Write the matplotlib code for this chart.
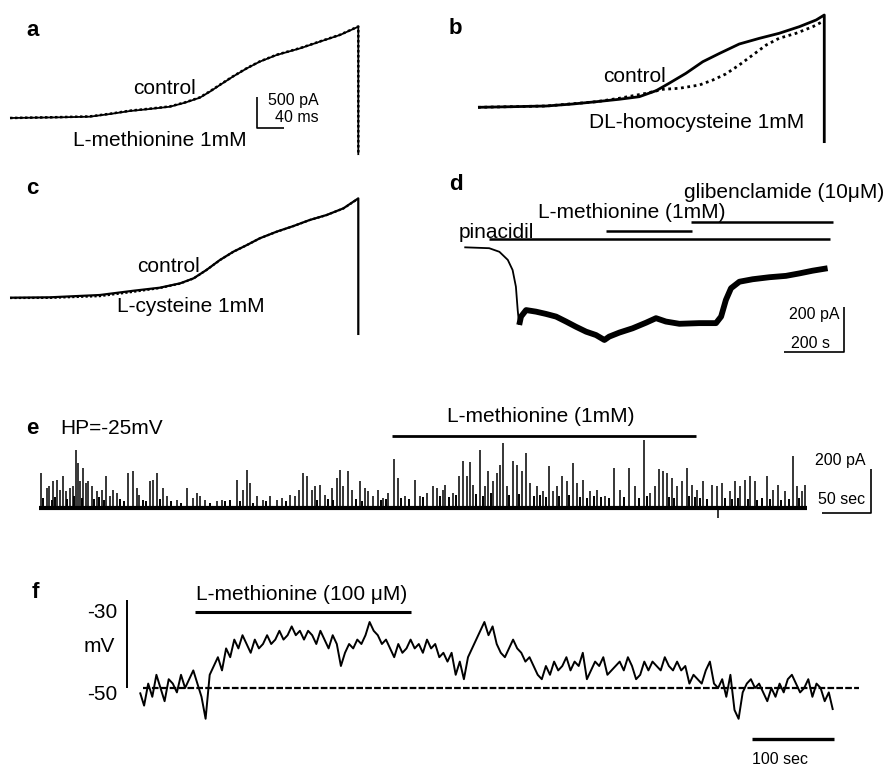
import numpy as np
import matplotlib
matplotlib.use("Agg")
import matplotlib.pyplot as plt

plt.rcParams.update({"font.family": ["Liberation Sans", "DejaVu Sans"],
                     "lines.solid_capstyle": "butt"})

W, H = 892, 767

# ---- a: L-methionine vs control (ms, pA) ----
a_t = [0, 74, 118, 148, 178, 207, 237, 259, 281, 296, 311, 330, 351, 370, 395,
       430, 459, 489, 516]
a_ctrl = [0, 11, 21, 64, 113, 145, 182, 246, 326, 423, 531, 665, 800, 907, 1014,
          1122, 1229, 1337, 1470]
a_met = [0, 14, 25, 68, 118, 150, 186, 250, 330, 428, 535, 668, 803, 910, 1018,
         1126, 1232, 1340, 1474]
a_drop = -596

# ---- b: DL-homocysteine vs control ----
b_t_ctrl = [0, 51, 101, 140, 175, 209, 239, 264, 283, 308, 333, 358, 387, 417,
            446, 476, 501, 513]
b_ctrl = [-5, 5, 16, 48, 85, 124, 166, 263, 381, 542, 729, 864, 1014, 1106, 1186,
          1293, 1401, 1481]
b_t_hcy = [0, 101, 175, 209, 249, 274, 298, 328, 348, 367, 387, 407, 427, 446,
           471, 496, 513]
b_hcy = [-5, 16, 85, 140, 220, 285, 301, 354, 435, 531, 676, 837, 998, 1106,
         1186, 1293, 1389]
b_drop = -580

# ---- c: L-cysteine vs control ----
c_t = [0, 59, 133, 183, 222, 252, 272, 291, 311, 331, 351, 370, 395, 420, 444,
       469, 494, 516]
c_ctrl = [5, 11, 48, 117, 166, 236, 317, 451, 612, 746, 853, 961, 1068, 1159,
          1256, 1336, 1444, 1604]
c_cys = [0, 2, 30, 100, 160, 232, 315, 450, 610, 745, 852, 960, 1066, 1158, 1255,
         1335, 1442, 1600]
c_drop = -596

# ---- d: whole-cell current (s, pA) ----
d_t = [0, 83, 117, 145, 161, 172, 178, 183, 189, 206, 239, 272, 306, 339, 372,
       406, 439, 467, 483, 517, 561, 606, 639, 672, 717, 783, 839, 856, 872, 889,
       917, 961, 1017, 1072, 1117, 1161, 1211]
d_I = [0, -4, -20, -56, -101, -175, -279, -345, -308, -279, -286, -296, -308,
       -330, -353, -375, -390, -412, -397, -379, -360, -335, -315, -330, -340,
       -337, -337, -308, -234, -182, -153, -142, -133, -127, -116, -104, -93]
d_pina = [83, 1220]
d_met = [472, 759]
d_glib = [756, 1228]

# ---- e: single-channel events (s, pA) ----
e_len = 784
e_spk_t = [1.7, 7.8, 10.5, 14.6, 18.7, 21.4, 24.2, 27.6, 31.6, 34.4, 37.8, 40.1,
           41.8, 45.2, 48, 50.3, 53.8, 58.9, 64, 68.4, 72.4, 75.8, 79.3, 91.1,
           96.2, 99.7, 102.3, 113.3, 116.6, 120.7, 126.8, 130.3, 140.5, 150.7,
           156.8, 160.9, 164.3, 169.4, 181.3, 186.4, 201.7, 208.5, 212.6, 215.3,
           222.1, 228.9, 235.7, 242.5, 247.6, 256.1, 261.2, 265.6, 269.7, 273.1,
           278.3, 281.6, 286.7, 291.8, 298.7, 303.8, 307.1, 310.5, 315.6, 319.1,
           327.6, 332.7, 336.1, 341.1, 346.2, 351.3, 356.4, 362.2, 366.7, 373.5,
           383.7, 388.8, 395.6, 401.7, 405.8, 412.6, 414.3, 422.8, 428.9, 433,
           436.4, 439.8, 443.2, 450, 455.1, 458.5, 463, 467, 470.4, 473.2, 477.2,
           484, 487.4, 492.5, 496.9, 501, 507.9, 514.6, 520.4, 524.2, 528.2,
           533.3, 538.5, 544.6, 548.7, 555.4, 562.2, 569.1, 577.6, 587, 592.9,
           602.3, 608.2, 617.3, 623.5, 628.6, 633, 637, 640.5, 645.6, 650.7,
           655.8, 660.9, 666, 671.1, 677.9, 686.4, 691.5, 692.5, 696.6, 705.1,
           710.2, 715.3, 720.4, 725.5, 730.6, 742.5, 749.3, 754.4, 761.2, 769.1,
           773.2, 778.3, 781.6]
e_spk_a = [159, 91, 98, 121, 126, 83, 144, 76, 91, 98, 265, 205, 121, 182, 114,
           121, 98, 76, 83, 144, 53, 83, 68, 159, 167, 91, 61, 121, 129, 159, 91,
           53, 38, 91, 45, 68, 53, 38, 30, 38, 129, 83, 174, 114, 53, 38, 53, 38,
           45, 61, 53, 83, 159, 144, 83, 98, 106, 61, 91, 136, 174, 98, 167, 83,
           121, 91, 76, 53, 83, 45, 68, 223, 136, 53, 129, 53, 68, 98, 91, 83,
           106, 68, 144, 212, 144, 208, 106, 265, 98, 167, 121, 159, 197, 295,
           98, 212, 197, 167, 250, 114, 98, 76, 189, 76, 98, 144, 121, 205, 114,
           129, 76, 83, 53, 182, 83, 182, 98, 308, 68, 98, 177, 167, 159, 136,
           98, 121, 182, 106, 83, 121, 106, 98, -45, 114, 76, 121, 98, 129, 144,
           121, 144, 83, 106, 76, 238, 98, 76, 106]
# small events filling the gaps between the larger openings
e_small_t = [4, 13, 16, 29, 36, 44, 56, 61, 66, 83, 87, 106, 109, 123, 135, 145,
             175, 190, 195, 205, 218, 232, 252, 284, 295, 300, 323, 330, 349,
             354, 369, 378, 392, 409, 418, 426, 446, 453, 461, 480, 490, 505,
             511, 517, 531, 541, 552, 559, 566, 573, 582, 597, 612, 620, 643,
             648, 663, 669, 674, 682, 700, 707, 713, 723, 733, 738, 746, 757,
             765, 776]
e_small_a = [45, 35, 50, 40, 55, 45, 40, 50, 35, 40, 30, 35, 30, 40, 30, 25, 25,
             30, 35, 30, 25, 30, 30, 35, 40, 35, 40, 30, 35, 40, 45, 40, 50, 55,
             50, 60, 65, 55, 70, 60, 65, 55, 60, 50, 55, 60, 50, 45, 55, 50, 45,
             50, 45, 55, 50, 45, 55, 50, 45, 40, 45, 40, 45, 40, 35, 45, 40, 35,
             40, 45]
e_met = [360, 670]

# ---- f: membrane potential (mV), sampled every 5 s ----
f_dt = 5
f_v = [-51, -54, -49, -52, -47, -50, -53, -48, -49, -51, -47, -50, -48, -46, -49,
       -52, -57, -47, -45, -43, -46, -41, -43,
       -39, -41, -38, -40, -42, -39, -41, -40, -38, -40, -39, -37, -39, -38, -36,
       -38, -37, -39, -37, -38, -40, -37, -39, -41, -38, -40, -45, -42, -40, -41,
       -39, -40, -38, -35, -37, -38, -40, -39, -41, -43, -40, -42, -41, -39, -41,
       -40, -42, -39, -41, -40, -43, -42, -44,
       -42, -47, -44, -48, -43, -41,
       -39, -37, -35, -38, -36, -40, -42,
       -43, -41, -39, -41, -42, -44, -43, -45,
       -47, -48, -45, -47, -44, -46, -45, -43, -46,
       -44, -45, -42, -48, -46, -44, -45, -43, -47, -46,
       -45, -44, -46, -43, -45, -48, -47, -44, -46,
       -44, -45, -46, -43, -45, -46, -44,
       -46, -45, -49, -47, -48, -49, -46, -44, -49,
       -50, -48, -52, -47, -55, -57, -51, -49, -48, -50,
       -49, -51, -53, -50, -52, -49, -51, -48, -47, -49,
       -51, -50, -48, -52, -49, -50, -53, -51, -55]
f_rest = -50
f_met = [67, 330]

fig = plt.figure(figsize=(W / 100, H / 100), dpi=100)


def panel(ox, oy, sx, sy):
    # transparent full-figure axes: data origin at pixel (ox, oy), sx/sy px per unit
    ax = fig.add_axes([0, 0, 1, 1])
    ax.set_axis_off()
    ax.patch.set_alpha(0)
    ax.set_xlim(-ox / sx, (W - ox) / sx)
    ax.set_ylim((oy - H) / sy, oy / sy)
    return ax


K = "black"
# a
ax = panel(10, 118, 0.675, 1 / 16.1)
ax.plot(a_t + [a_t[-1]], a_ctrl + [a_drop], color=K, lw=1.3)
ax.plot(a_t + [a_t[-1]], a_met + [a_drop], color=K, lw=1.8, ls=(0, (1, 1)))
ax.plot([366, 366, 406], [339, -161, -161], color=K, lw=1.2)

# b
ax = panel(478, 107, 0.675, 1 / 16.1)
ax.plot(b_t_hcy, b_hcy, color=K, lw=2.0, ls=(0, (1, 1.3)))
ax.plot(b_t_ctrl + [b_t_ctrl[-1]], b_ctrl + [b_drop], color=K, lw=2.0)

# c
ax = panel(10, 298, 0.675, 1 / 16.1)
ax.plot(c_t, c_cys, color=K, lw=1.6, ls=(0, (1, 1)))
ax.plot(c_t + [c_t[-1]], c_ctrl + [c_drop], color=K, lw=1.6)

# d
ax = panel(464.3, 247.3, 0.3, 0.225)
ax.plot(d_t[:8], d_I[:8], color=K, lw=1.3)
ax.plot(d_t[7:], d_I[7:], color=K, lw=4.2, solid_joinstyle="round")
ax.plot(d_pina, [37, 37], color=K, lw=1.8)
ax.plot(d_met, [72, 72], color=K, lw=1.8)
ax.plot(d_glib, [112, 112], color=K, lw=1.8)
ax.plot([1066, 1266, 1266], [-465, -465, -265], color=K, lw=1.2)

# e
ax = panel(39, 508, 0.98, 0.22)
ax.plot([0, e_len], [0, 0], color=K, lw=3.0)
ax.vlines(e_small_t, 0, e_small_a, color=K, lw=1.4)
ax.vlines(e_spk_t, 0, e_spk_a, color=K, lw=1.1)
ax.plot(e_met, [327, 327], color=K, lw=2.0)
ax.plot([799, 849, 849], [-23, -23, 177], color=K, lw=1.2)

# f
ax = panel(140, 468, 0.82, 4.4)
f_t = np.arange(len(f_v)) * f_dt
ax.plot([4, 877], [f_rest, f_rest], color=K, lw=1.6, ls=(0, (3, 1)))
ax.plot(f_t, f_v, color=K, lw=1.4)
ax.plot(f_met, [-32.7, -32.7], color=K, lw=2.2)
ax.plot([-16, -16], [-30, -50], color=K, lw=1.4)
ax.plot([746, 846], [-61.6, -61.6], color=K, lw=2.4)

# labels (pixel coordinates)
lab = panel(0, 0, 1, -1)
for s, x, y in [("a", 33, 30), ("b", 455, 28), ("c", 32, 188), ("d", 456, 185),
                ("e", 32, 428), ("f", 35, 592)]:
    lab.text(x, y, s, fontsize=16, fontweight="bold", ha="center", va="center")

big = dict(fontsize=15, va="center", ha="left")
sml = dict(fontsize=11.5, va="center", ha="left")
lab.text(133, 89, "control", **big)
lab.text(73, 140, "L-methionine 1mM", **big)
lab.text(268, 100, "500 pA", **sml)
lab.text(275, 118, "40 ms", **sml)
lab.text(603, 77, "control", **big)
lab.text(589, 122, "DL-homocysteine 1mM", **big)
lab.text(137, 267, "control", **big)
lab.text(117, 307, "L-cysteine 1mM", **big)
lab.text(684, 192, "glibenclamide (10\u03bcM)", **big)
lab.text(538, 212, "L-methionine (1mM)", **big)
lab.text(459, 232, "pinacidil", **big)
lab.text(789, 315, "200 pA", **sml)
lab.text(791, 343, "200 s", **sml)
lab.text(60, 429, "HP=-25mV", **big)
lab.text(541, 417, "L-methionine (1mM)", fontsize=15, va="center", ha="center")
lab.text(815, 460, "200 pA", **sml)
lab.text(818, 499, "50 sec", **sml)
lab.text(117, 612, "-30", fontsize=15, va="center", ha="right")
lab.text(115, 647, "mV", fontsize=15, va="center", ha="right")
lab.text(117, 695, "-50", fontsize=15, va="center", ha="right")
lab.text(196, 595, "L-methionine (100 \u03bcM)", **big)
lab.text(752, 759, "100 sec", **sml)

fig.savefig("out.png", dpi=100)
